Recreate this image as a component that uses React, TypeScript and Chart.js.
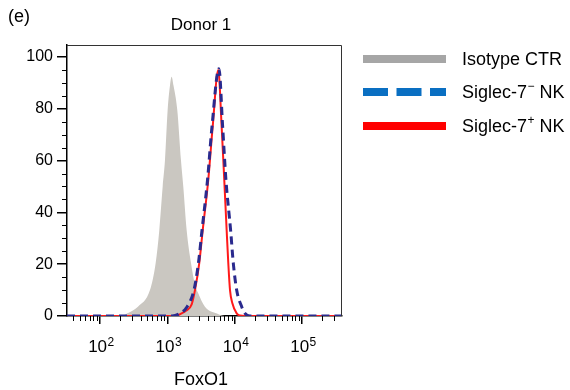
import React, { useEffect, useRef } from 'react';
import { Chart, registerables } from 'chart.js';
Chart.register(...registerables);

const FONT = '"Liberation Sans", Arial, Helvetica, sans-serif';

const xMin = 32.4;
const xMax = 393000;
const yMax = 104.63;

const yTickValues = [0, 20, 40, 60, 80, 100];
const xTickExponents = [2, 3, 4, 5];

const grayX = [xMin, 198, 252, 366, 553, 672, 760, 854, 923, 1012, 1096, 1161, 1236, 1407, 1597, 1727, 1941, 2249, 2579, 2857, 3625, 5467, 7194, xMax];
const grayY = [0, 0, 1, 3.6, 10, 20.5, 33, 50, 60, 79.5, 89, 92.4, 89, 79.5, 60, 50, 33, 20.5, 12, 9, 3.6, 1, 0, 0];

const redX = [xMin, 1300, 1635, 1892, 2301, 2577, 2986, 3352, 4058, 4717, 5715, 6416, 7016, 7615, 8048, 8535, 9230, 10720, 12000, 14250, xMax];
const redY = [0, 0, 1, 2, 4.5, 10, 20.5, 33, 52.5, 73, 95, 73, 52.5, 33, 20.5, 10, 5, 1, 0.2, 0, 0];

const blueX = [xMin, 1172, 1542, 1959, 2490, 2903, 3273, 3953, 4605, 5849, 6640, 7430, 8726, 9544, 10720, 12730, 14250, 16910, xMax];
const blueY = [0, 0, 1, 3.5, 10, 20.5, 33, 52.5, 73, 95.5, 73, 52.5, 33, 20.5, 10, 3.6, 1, 0, 0];

const legendLabels = ['Isotype CTR', 'Siglec-7', 'Siglec-7'];
const legendSups = ['', '\u2212', '+'];

const pts = (xs: number[], ys: number[]) => xs.map((x, i) => ({ x, y: ys[i] }));

const decorPlugin = {
  id: 'decor',
  afterDraw(chart: any) {
    const ctx = chart.ctx as CanvasRenderingContext2D;
    const { left, right, top, bottom } = chart.chartArea;
    const xs = chart.scales.x;
    const ys = chart.scales.y;
    ctx.save();
    // box top/right
    ctx.strokeStyle = '#333';
    ctx.lineWidth = 1;
    ctx.beginPath();
    ctx.moveTo(left, top + 0.5);
    ctx.lineTo(right - 0.5, top + 0.5);
    ctx.lineTo(right - 0.5, bottom);
    ctx.stroke();
    // minor ticks y
    ctx.strokeStyle = '#000';
    ctx.lineWidth = 1;
    for (let v = 5; v < 100; v += 5) {
      if (v % 20 === 0) continue;
      const py = Math.round(ys.getPixelForValue(v)) + 0.5;
      ctx.beginPath();
      ctx.moveTo(left - 5, py);
      ctx.lineTo(left, py);
      ctx.stroke();
    }
    // minor ticks x
    for (let n = 1; n <= 5; n++) {
      for (let m = 2; m <= 9; m++) {
        const v = m * Math.pow(10, n);
        if (v < xMin || v > xMax) continue;
        const px = Math.round(xs.getPixelForValue(v)) + 0.5;
        ctx.beginPath();
        ctx.moveTo(px, bottom);
        ctx.lineTo(px, bottom + 5);
        ctx.stroke();
      }
    }
    // x tick labels 10^n
    ctx.fillStyle = '#000';
    ctx.textBaseline = 'alphabetic';
    for (const e of xTickExponents) {
      const px = xs.getPixelForValue(Math.pow(10, e));
      ctx.font = `17px ${FONT}`;
      const w1 = ctx.measureText('10').width;
      ctx.font = `12px ${FONT}`;
      const w2 = ctx.measureText(String(e)).width;
      const x0 = px + 1 - (w1 + w2) / 2;
      ctx.font = `17px ${FONT}`;
      ctx.textAlign = 'left';
      ctx.fillText('10', x0, 352);
      ctx.font = `12px ${FONT}`;
      ctx.fillText(String(e), x0 + w1 + 0.5, 346);
    }
    // axis title
    ctx.font = `18px ${FONT}`;
    ctx.textAlign = 'center';
    ctx.textBaseline = 'middle';
    ctx.fillText('FoxO1', 201, 380);
    // chart title
    ctx.font = `17px ${FONT}`;
    ctx.fillText('Donor 1', 201, 25);
    // panel label
    ctx.font = `18px ${FONT}`;
    ctx.textAlign = 'left';
    ctx.fillText('(e)', 8, 17);
    // legend
    const rows = [
      { color: '#a6a6a6', dash: [] as number[], y: 59 },
      { color: '#0a6fc2', dash: [25, 8.5], y: 92 },
      { color: '#ff0000', dash: [] as number[], y: 126 },
    ];
    rows.forEach((r, i) => {
      ctx.save();
      ctx.strokeStyle = r.color;
      ctx.lineWidth = 8;
      ctx.lineCap = 'butt';
      ctx.setLineDash(r.dash);
      ctx.beginPath();
      ctx.moveTo(363, r.y);
      ctx.lineTo(446, r.y);
      ctx.stroke();
      ctx.restore();
      ctx.fillStyle = '#000';
      ctx.textAlign = 'left';
      ctx.textBaseline = 'middle';
      ctx.font = `18px ${FONT}`;
      const label = legendLabels[i];
      ctx.fillText(label, 462, r.y + 1);
      if (legendSups[i]) {
        let x = 462 + ctx.measureText(label).width;
        ctx.font = `12px ${FONT}`;
        ctx.fillText(legendSups[i], x + 0.5, r.y - 5);
        x += ctx.measureText(legendSups[i]).width + 0.5;
        ctx.font = `18px ${FONT}`;
        ctx.fillText(' NK', x, r.y + 1);
      }
    });
    ctx.restore();
  },
};

export default function App() {
  const ref = useRef<HTMLCanvasElement | null>(null);
  useEffect(() => {
    if (!ref.current) return;
    Chart.defaults.font.family = FONT;
    const chart = new Chart(ref.current, {
      type: 'line',
      data: {
        datasets: [
          {
            label: 'Siglec-7- NK',
            data: pts(blueX, blueY),
            borderColor: '#2a2a8e',
            borderWidth: 3,
            borderDash: [8, 5],
            pointRadius: 0,
            fill: false,
            cubicInterpolationMode: 'monotone',
            order: 1,
          },
          {
            label: 'Siglec-7+ NK',
            data: pts(redX, redY),
            borderColor: '#ff1a1a',
            borderWidth: 2,
            pointRadius: 0,
            fill: false,
            cubicInterpolationMode: 'monotone',
            order: 2,
          },
          {
            label: 'Isotype CTR',
            data: pts(grayX, grayY),
            borderColor: 'rgba(202,199,193,1)',
            backgroundColor: 'rgba(202,199,193,1)',
            borderWidth: 0,
            pointRadius: 0,
            fill: 'origin',
            cubicInterpolationMode: 'monotone',
            order: 3,
          },
        ],
      },
      options: {
        responsive: false,
        animation: false,
        layout: { padding: { left: 0, right: 228, top: 45, bottom: 0 } },
        plugins: { legend: { display: false }, title: { display: false }, tooltip: { enabled: false } },
        scales: {
          x: {
            type: 'logarithmic',
            min: xMin,
            max: xMax,
            afterBuildTicks: (s: any) => {
              s.ticks = xTickExponents.map((e) => ({ value: Math.pow(10, e), major: true }));
            },
            afterFit: (s: any) => {
              s.height = 74;
            },
            grid: { drawOnChartArea: false, tickLength: 8, color: '#000', lineWidth: 1.5 },
            border: { color: '#000', width: 1.5 },
            ticks: { display: false },
          },
          y: {
            type: 'linear',
            min: 0,
            max: yMax,
            afterBuildTicks: (s: any) => {
              s.ticks = yTickValues.map((v) => ({ value: v }));
            },
            afterFit: (s: any) => {
              s.width = 67;
            },
            grid: { drawOnChartArea: false, tickLength: 10, color: '#000', lineWidth: 1.5 },
            border: { color: '#000', width: 1.5 },
            ticks: { color: '#000', font: { size: 16, family: FONT }, padding: 4 },
          },
        },
      },
      plugins: [decorPlugin],
    } as any);
    return () => chart.destroy();
  }, []);
  return (
    <div style={{ position: 'absolute', left: 0, top: 0, width: 570, height: 390 }}>
      <canvas ref={ref} width={570} height={390} style={{ display: 'block' }} />
    </div>
  );
}
